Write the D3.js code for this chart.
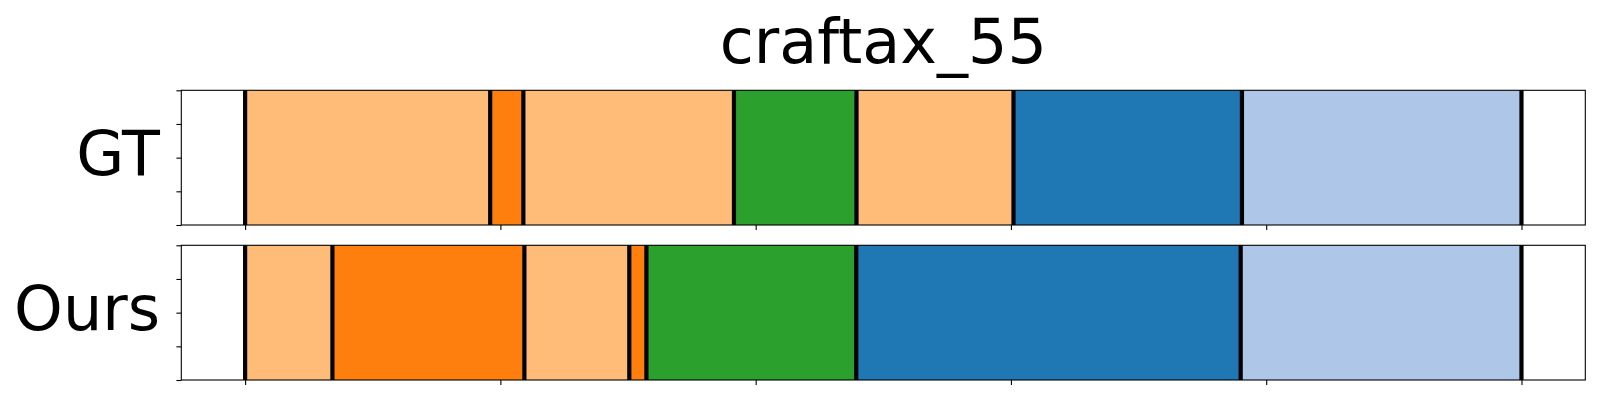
<!DOCTYPE html>
<html>
<head>
<meta charset="utf-8">
<script src="https://cdn.jsdelivr.net/npm/d3@7"></script>
<style>
  html, body { margin: 0; padding: 0; background: #fff; }
  svg { display: block; }
  text { font-family: "DejaVu Sans", sans-serif; fill: #000; }
</style>
</head>
<body>
<svg id="chart" width="1600" height="400"></svg>
<script>
// ---- data ----
const title = "craftax_55";
const rowNames = ["GT", "Ours"];
const classColors = ["#1f77b4", "#aec7e8", "#ff7f0e", "#ffbb78", "#2ca02c"];
const gtBounds = [0, 96, 109, 191.5, 239.5, 301, 390.5, 500];
const gtClasses = [3, 2, 3, 4, 3, 0, 1];
const oursBounds = [0, 34.2, 109.4, 150.5, 157.2, 239.4, 390, 500];
const oursClasses = [3, 2, 3, 2, 4, 0, 1];
const xTicks = [0, 100, 200, 300, 400, 500];
const yTicks = [0, 0.25, 0.5, 0.75, 1];

// ---- layout ----
const svg = d3.select("#chart");
const x = d3.scaleLinear().domain([-25, 525]).range([181.3, 1585.3]);
const panels = [
  { name: rowNames[0], bounds: gtBounds, classes: gtClasses, top: 90.3, bottom: 225 },
  { name: rowNames[1], bounds: oursBounds, classes: oursClasses, top: 245.3, bottom: 380 }
];

svg.append("text")
  .attr("x", (x.range()[0] + x.range()[1]) / 2)
  .attr("y", 63)
  .attr("text-anchor", "middle")
  .style("font-size", "62px")
  .text(title);

panels.forEach(p => {
  const y = d3.scaleLinear().domain([0, 1]).range([p.bottom, p.top]);
  const g = svg.append("g");
  const segs = p.classes.map((c, i) => ({ c, s: p.bounds[i], e: p.bounds[i + 1] }));

  g.selectAll("rect.seg").data(segs).join("rect")
    .attr("class", "seg")
    .attr("x", d => x(d.s))
    .attr("width", d => x(d.e) - x(d.s))
    .attr("y", y(1))
    .attr("height", y(0) - y(1))
    .attr("fill", d => classColors[d.c]);

  g.selectAll("line.bnd").data(p.bounds).join("line")
    .attr("class", "bnd")
    .attr("x1", d => x(d)).attr("x2", d => x(d))
    .attr("y1", y(1)).attr("y2", y(0))
    .attr("stroke", "#000").attr("stroke-width", 4.2);

  // axes
  const xAxis = d3.axisBottom(x).tickValues(xTicks).tickFormat("").tickSizeOuter(0).tickSizeInner(4.9);
  const ax = g.append("g").attr("transform", `translate(0,${p.bottom})`).call(xAxis);
  ax.select(".domain").remove();
  ax.selectAll("line").attr("stroke-width", 1.1);

  const yAxis = d3.axisLeft(y).tickValues(yTicks).tickFormat("").tickSizeOuter(0).tickSizeInner(4.9);
  const ay = g.append("g").attr("transform", `translate(${x.range()[0]},0)`).call(yAxis);
  ay.select(".domain").remove();
  ay.selectAll("line").attr("stroke-width", 1.1);

  g.append("rect")
    .attr("x", x.range()[0]).attr("y", p.top)
    .attr("width", x.range()[1] - x.range()[0])
    .attr("height", p.bottom - p.top)
    .attr("fill", "none").attr("stroke", "#000").attr("stroke-width", 1.1);

  svg.append("text")
    .attr("x", 160)
    .attr("y", (p.top + p.bottom) / 2 + 17.5)
    .attr("text-anchor", "end")
    .style("font-size", "62px")
    .text(p.name);
});
</script>
</body>
</html>
